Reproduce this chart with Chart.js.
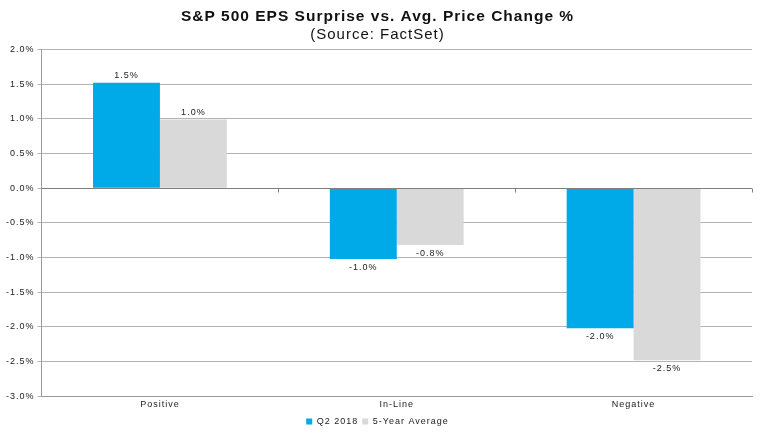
<!DOCTYPE html>
<html>
<head>
<meta charset="utf-8">
<script src="https://cdn.jsdelivr.net/npm/chart.js@4/dist/chart.umd.min.js"></script>
<style>
  html, body { margin: 0; padding: 0; background: #fff; }
  #wrap { width: 761px; height: 433px; }
</style>
</head>
<body>
<div id="wrap"><canvas id="myChart"></canvas></div>
<script>
const categories = ['Positive', 'In-Line', 'Negative'];
const q2_2018 = [1.52, -1.02, -2.02];
const fiveYearAvg = [0.99, -0.82, -2.48];
const labelsQ2 = ['1.5%', '-1.0%', '-2.0%'];
const labelsAvg = ['1.0%', '-0.8%', '-2.5%'];

const FONT = '"Liberation Sans", Arial, sans-serif';

// the original text looks stretched, so space the letters out a bit
const wideText = {
    id: 'wideText',
    beforeLayout(chart) { chart.ctx.letterSpacing = '1px'; },
    beforeDraw(chart) { chart.ctx.letterSpacing = '1px'; }
};

// draws value labels above positive bars and below negative ones
const barLabels = {
    id: 'barLabels',
    afterDatasetsDraw(chart) {
        const ctx = chart.ctx;
        const texts = [labelsQ2, labelsAvg];
        ctx.save();
        ctx.font = '9px ' + FONT;
        ctx.fillStyle = '#222';
        ctx.textAlign = 'center';
        chart.data.datasets.forEach((ds, i) => {
            chart.getDatasetMeta(i).data.forEach((bar, j) => {
                if (ds.data[j] >= 0) {
                    ctx.textBaseline = 'bottom';
                    ctx.fillText(texts[i][j], bar.x, bar.y - 3);
                } else {
                    ctx.textBaseline = 'top';
                    ctx.fillText(texts[i][j], bar.x, bar.y + 4);
                }
            });
        });
        ctx.restore();
    }
};

// zero axis line with category tick marks
const zeroAxis = {
    id: 'zeroAxis',
    afterDatasetsDraw(chart) {
        const ctx = chart.ctx;
        const x = chart.scales.x, y = chart.scales.y;
        const y0 = Math.round(y.getPixelForValue(0)) + 0.5;
        ctx.save();
        ctx.strokeStyle = '#7f7f7f';
        ctx.lineWidth = 1;
        ctx.beginPath();
        ctx.moveTo(x.left, y0);
        ctx.lineTo(x.right, y0);
        const step = (x.right - x.left) / categories.length;
        for (let k = 1; k <= categories.length; k++) {
            const px = Math.round(x.left + step * k) + 0.5;
            ctx.moveTo(px, y0);
            ctx.lineTo(px, y0 + 4);
        }
        ctx.stroke();
        ctx.restore();
    }
};

const chart_config = {
    type: 'bar',
    data: {
        labels: categories,
        datasets: [{
            label: 'Q2 2018',
            data: q2_2018,
            backgroundColor: '#00a9e8'
        }, {
            label: '5-Year Average',
            data: fiveYearAvg,
            backgroundColor: '#d9d9d9'
        }]
    },
    options: {
        responsive: true,
        maintainAspectRatio: false,
        animation: false,
        datasets: {
            bar: { categoryPercentage: 0.565, barPercentage: 1.0 }
        },
        layout: { padding: { left: 3, right: 9, top: 0, bottom: -3 } },
        scales: {
            x: {
                grid: { display: false, drawTicks: false },
                border: { color: '#9a9a9a' },
                ticks: { color: '#222', font: { family: FONT, size: 9 }, padding: 3 }
            },
            y: {
                min: -3.0,
                max: 2.0,
                ticks: {
                    stepSize: 0.5,
                    color: '#222',
                    font: { family: FONT, size: 9 },
                    padding: 3,
                    callback: v => v.toFixed(1) + '%'
                },
                grid: { color: '#b3b3b3', tickLength: 4, drawTicks: true },
                border: { color: '#9a9a9a' }
            }
        },
        plugins: {
            title: {
                display: true,
                text: 'S&P 500 EPS Surprise vs. Avg. Price Change %',
                color: '#111',
                font: { family: FONT, size: 15.5, weight: 'bold' },
                padding: { top: 7, bottom: 0 }
            },
            subtitle: {
                display: true,
                text: '(Source: FactSet)',
                color: '#111',
                font: { family: FONT, size: 15 },
                padding: { top: 0, bottom: 6 }
            },
            legend: {
                position: 'bottom',
                labels: {
                    boxWidth: 6,
                    boxHeight: 6,
                    color: '#222',
                    font: { family: FONT, size: 9 },
                    padding: 4
                }
            },
            tooltip: { enabled: false }
        }
    },
    plugins: [wideText, barLabels, zeroAxis]
};

new Chart(document.getElementById('myChart'), chart_config);
</script>
</body>
</html>
